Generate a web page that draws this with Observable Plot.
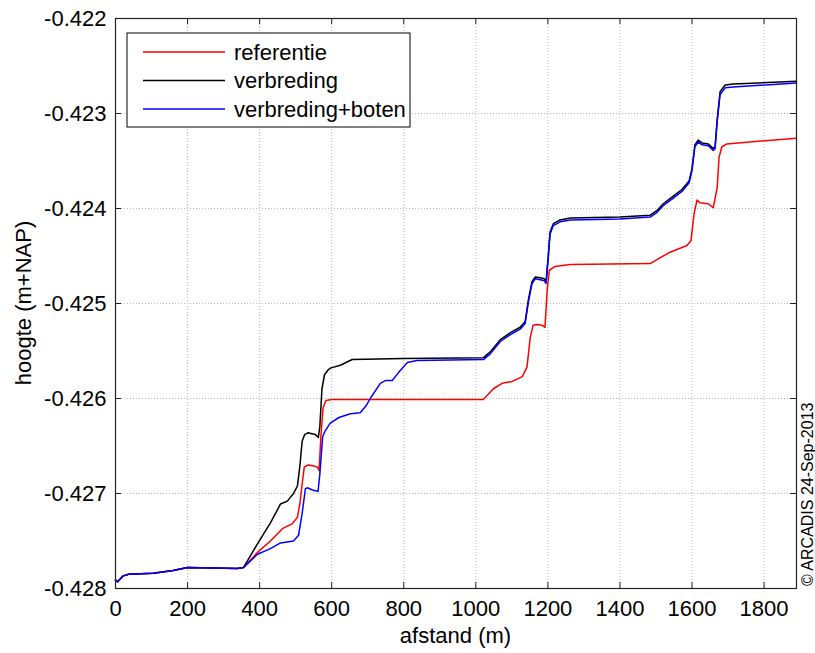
<!DOCTYPE html>
<html><head><meta charset="utf-8">
<script src="https://cdn.jsdelivr.net/npm/d3@7"></script>
<script src="https://cdn.jsdelivr.net/npm/@observablehq/plot@0.6"></script>
<style>body{margin:0;background:#fff;} svg{display:block;}</style>
</head><body><div id="chart"></div>
<script>
const seriesNames = ["referentie", "verbreding", "verbreding+boten"];
const seriesColors = ["#ff0000", "#000000", "#0000ff"];
const xTicks = [0, 200, 400, 600, 800, 1000, 1200, 1400, 1600, 1800];
const yTicks = [-0.428, -0.427, -0.426, -0.425, -0.424, -0.423, -0.422];
const xDomain = [0, 1890];
const yDomain = [-0.428, -0.422];

// common start (all three series coincide)
const startX = [0, 6, 20, 36, 105, 160, 200, 338, 355];
const startY = [-0.42791, -0.42793, -0.42787, -0.42785, -0.42784, -0.42781, -0.42778, -0.42779, -0.42778];

const refX = [394, 430, 463, 490, 505, 512, 518, 524, 535, 550, 560, 565, 570, 576, 584, 600, 800, 1021, 1048, 1073, 1101, 1129, 1142, 1151, 1159, 1170, 1184, 1192, 1198, 1204, 1220, 1262, 1484, 1511, 1539, 1586, 1597, 1606, 1614, 1622, 1645, 1659, 1670, 1675, 1683, 1697, 1890];
const refY = [-0.42762, -0.42750, -0.42737, -0.42732, -0.42725, -0.42710, -0.42690, -0.42672, -0.42670, -0.42671, -0.42672, -0.42676, -0.42640, -0.42610, -0.42602, -0.42601, -0.42601, -0.42601, -0.42590, -0.42584, -0.42582, -0.42577, -0.42567, -0.42536, -0.42523, -0.42522, -0.42523, -0.42525, -0.42486, -0.42465, -0.42461, -0.42459, -0.42458, -0.42452, -0.42446, -0.42439, -0.42434, -0.42405, -0.42391, -0.42394, -0.42395, -0.42399, -0.42378, -0.42346, -0.42335, -0.42332, -0.42326];

const verX = [394, 430, 458, 477, 494, 505, 512, 518, 525, 535, 545, 555, 563, 567, 573, 580, 590, 596, 624, 657, 800, 1021, 1040, 1068, 1095, 1123, 1137, 1146, 1156, 1165, 1179, 1190, 1195, 1201, 1206, 1215, 1234, 1262, 1400, 1484, 1503, 1520, 1548, 1572, 1592, 1600, 1608, 1617, 1628, 1645, 1659, 1664, 1670, 1678, 1692, 1714, 1890];
const verY = [-0.42753, -0.42731, -0.42711, -0.42708, -0.42700, -0.42692, -0.42670, -0.42645, -0.42638, -0.42636, -0.42637, -0.42638, -0.42641, -0.42630, -0.42590, -0.42575, -0.42570, -0.42568, -0.42565, -0.42559, -0.42558, -0.42557, -0.42551, -0.42538, -0.42531, -0.42525, -0.42519, -0.42496, -0.42477, -0.42472, -0.42473, -0.42474, -0.42477, -0.42450, -0.42425, -0.42416, -0.42412, -0.42410, -0.42409, -0.42407, -0.42402, -0.42395, -0.42387, -0.42380, -0.42371, -0.42358, -0.42333, -0.42328, -0.42331, -0.42332, -0.42337, -0.42335, -0.42306, -0.42277, -0.42270, -0.42269, -0.42266];

const botX = [394, 430, 458, 494, 508, 518, 527, 532, 545, 555, 562, 567, 575, 582, 596, 620, 652, 679, 695, 707, 735, 750, 768, 785, 810, 837, 1021, 1040, 1068, 1095, 1123, 1137, 1146, 1156, 1165, 1179, 1190, 1195, 1201, 1206, 1215, 1234, 1262, 1400, 1484, 1503, 1520, 1548, 1572, 1592, 1600, 1608, 1617, 1628, 1645, 1659, 1664, 1670, 1678, 1692, 1714, 1890];
const botY = [-0.42764, -0.42758, -0.42752, -0.42750, -0.42744, -0.42721, -0.42695, -0.42694, -0.42696, -0.42697, -0.42698, -0.42680, -0.42640, -0.42634, -0.42626, -0.42620, -0.42616, -0.42615, -0.42608, -0.42600, -0.42584, -0.42581, -0.42581, -0.42573, -0.42562, -0.42560, -0.42559, -0.42553, -0.42540, -0.42533, -0.42527, -0.42521, -0.42498, -0.42479, -0.42474, -0.42475, -0.42476, -0.42479, -0.42452, -0.42427, -0.42418, -0.42414, -0.42412, -0.42411, -0.42409, -0.42404, -0.42397, -0.42389, -0.42382, -0.42373, -0.42360, -0.42335, -0.42330, -0.42333, -0.42334, -0.42339, -0.42337, -0.42308, -0.42280, -0.42273, -0.42272, -0.42268];

function rows(name, xs, ys) {
  const all = startX.map((x, i) => ({series: name, x, y: startY[i]}));
  xs.forEach((x, i) => all.push({series: name, x, y: ys[i]}));
  return all;
}
const refRows = rows(seriesNames[0], refX, refY);
const verRows = rows(seriesNames[1], verX, verY);
const botRows = rows(seriesNames[2], botX, botY);

const W = 815, H = 653;
const mL = 115, mR = 19, mT = 18, mB = 65;
const tickPx = 6;
const kx = (xDomain[1] - xDomain[0]) / (W - mL - mR);
const ky = (yDomain[1] - yDomain[0]) / (H - mT - mB);
const tx = tickPx * kx, ty = tickPx * ky;

const font = "'Liberation Sans', Arial, Helvetica, sans-serif";
const FS = 22;
const gridStyle = {stroke: "#a8a8a8", strokeOpacity: 1, strokeWidth: 0.8, strokeDasharray: "1,2"};

const plot = Plot.plot({
  width: W, height: H,
  marginLeft: mL, marginRight: mR, marginTop: mT, marginBottom: mB,
  style: {fontFamily: font, fontSize: FS + "px", background: "#fff", color: "#000"},
  x: {domain: xDomain, axis: null},
  y: {domain: yDomain, axis: null},
  marks: [
    Plot.ruleX(xTicks.filter(d => d > xDomain[0]), {x: d => d, ...gridStyle}),
    Plot.ruleY(yTicks.filter(d => d > yDomain[0] && d < yDomain[1]), {y: d => d, ...gridStyle}),
    Plot.line(refRows, {x: "x", y: "y", stroke: seriesColors[0], strokeWidth: 1.5}),
    Plot.line(verRows, {x: "x", y: "y", stroke: seriesColors[1], strokeWidth: 1.5}),
    Plot.line(botRows, {x: "x", y: "y", stroke: seriesColors[2], strokeWidth: 1.5}),
    Plot.ruleX(xTicks, {x: d => d, y1: yDomain[0], y2: yDomain[0] + ty, stroke: "#222"}),
    Plot.ruleX(xTicks, {x: d => d, y1: yDomain[1], y2: yDomain[1] - ty, stroke: "#222"}),
    Plot.ruleY(yTicks, {y: d => d, x1: xDomain[0], x2: xDomain[0] + tx, stroke: "#222"}),
    Plot.ruleY(yTicks, {y: d => d, x1: xDomain[1], x2: xDomain[1] - tx, stroke: "#222"}),
    Plot.frame({stroke: "#222", strokeWidth: 1.2}),
    Plot.text(xTicks, {x: d => d, y: yDomain[0], text: d => String(d), dy: 20, fontSize: FS, fill: "#000"}),
    Plot.text(yTicks, {x: xDomain[0], y: d => d, text: d => d.toFixed(3), dx: -9, textAnchor: "end", fontSize: FS, fill: "#000"})
  ]
});
document.getElementById("chart").appendChild(plot);

const svg = d3.select(plot);
svg.append("text").attr("x", mL + (W - mL - mR) / 2).attr("y", 643)
  .attr("text-anchor", "middle").attr("font-size", FS).attr("fill", "#000").text("afstand (m)");
svg.append("text").attr("transform", `translate(31,${mT + (H - mT - mB) / 2}) rotate(-90)`)
  .attr("text-anchor", "middle").attr("font-size", FS).attr("fill", "#000").text("hoogte (m+NAP)");
svg.append("text").attr("transform", `translate(813,586) rotate(-90)`)
  .attr("text-anchor", "start").attr("font-size", 16).attr("fill", "#000").text("© ARCADIS 24-Sep-2013");

const lg = svg.append("g");
lg.append("rect").attr("x", 127).attr("y", 33).attr("width", 283).attr("height", 94)
  .attr("fill", "#fff").attr("stroke", "#000").attr("stroke-width", 1);
seriesNames.forEach((name, i) => {
  const yy = 52 + i * 28.5;
  lg.append("line").attr("x1", 143).attr("x2", 225).attr("y1", yy).attr("y2", yy)
    .attr("stroke", seriesColors[i]).attr("stroke-width", 1.3);
  lg.append("text").attr("x", 234).attr("y", yy).attr("dy", "0.35em")
    .attr("text-anchor", "start")
    .attr("font-size", FS).attr("fill", "#000").text(name);
});
</script>
</body></html>
